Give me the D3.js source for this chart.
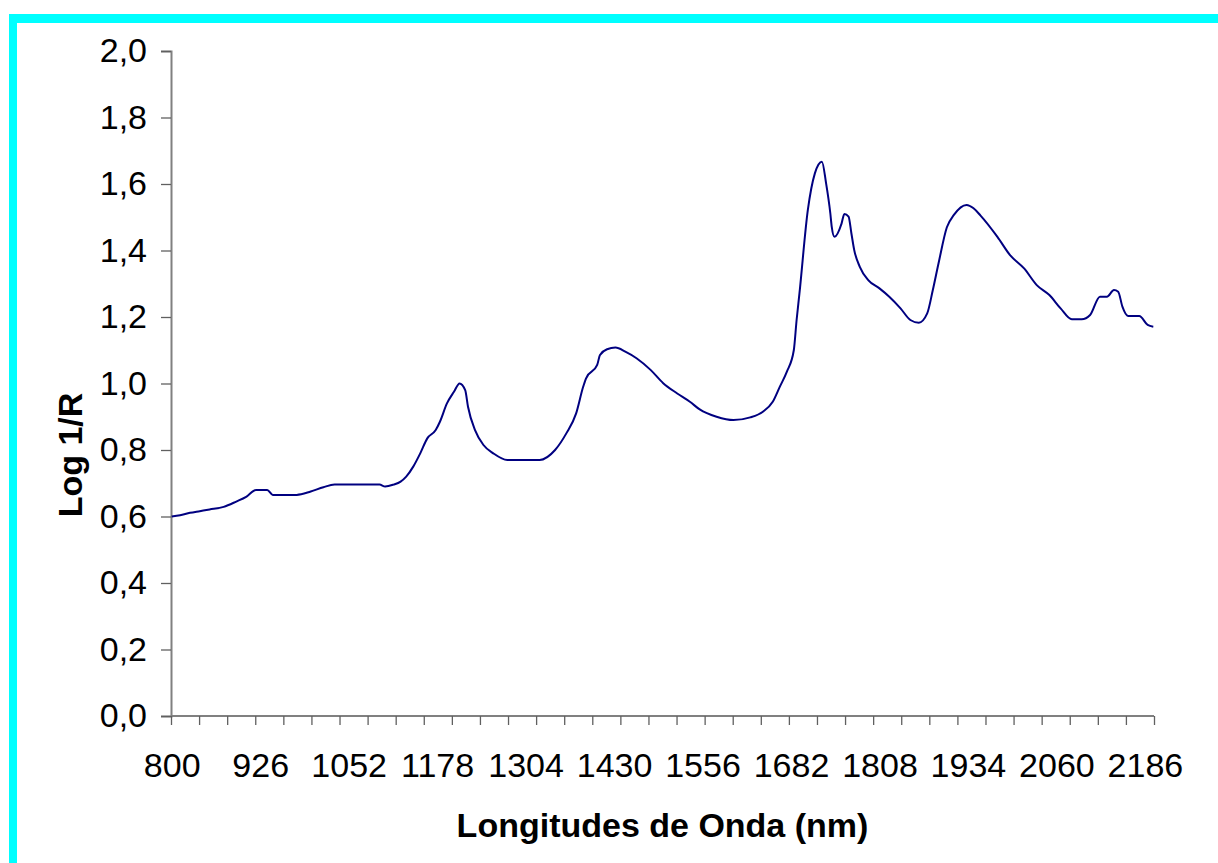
<!DOCTYPE html>
<html>
<head>
<meta charset="utf-8">
<script src="https://cdn.jsdelivr.net/npm/d3@7"></script>
<style>
  html, body { margin: 0; padding: 0; background: #ffffff; }
  svg { display: block; }
  text { font-family: "Liberation Sans", Arial, sans-serif; }
</style>
</head>
<body>
<svg id="chart" width="1218" height="863"></svg>
<script>
// Spectrum: wavelength (nm) and absorbance (log 1/R)
const wavelengths = [800, 812, 826, 840, 854, 874, 892, 906, 920, 936, 944, 978, 998, 1016, 1032,
  1096, 1104, 1116, 1126, 1134, 1144, 1154, 1164, 1176, 1182, 1192, 1202, 1210, 1218, 1222,
  1232, 1244, 1258, 1278, 1324, 1346, 1362, 1376, 1386, 1390, 1406, 1410, 1420, 1432, 1446,
  1462, 1482, 1500, 1520, 1538, 1552, 1576, 1600, 1624, 1642, 1656, 1666, 1676, 1686, 1690,
  1694, 1706, 1716, 1726, 1732, 1738, 1740, 1744, 1754, 1758, 1764, 1768, 1772, 1780, 1792,
  1808, 1822, 1838, 1852, 1864, 1876, 1884, 1892, 1904, 1914, 1932, 1942, 1952, 1976, 1994,
  2014, 2032, 2050, 2066, 2082, 2096, 2108, 2122, 2132, 2142, 2148, 2154, 2162, 2178, 2190, 2198];
const absorbance = [0.600, 0.604, 0.611, 0.616, 0.621, 0.629, 0.645, 0.659, 0.680, 0.680, 0.665, 0.665, 0.675, 0.688, 0.696,
  0.696, 0.690, 0.696, 0.705, 0.720, 0.750, 0.790, 0.835, 0.860, 0.885, 0.940, 0.975, 1.000, 0.980, 0.930,
  0.860, 0.815, 0.790, 0.770, 0.770, 0.800, 0.850, 0.910, 0.990, 1.015, 1.056, 1.086, 1.103, 1.108, 1.096,
  1.076, 1.041, 1.001, 0.970, 0.945, 0.922, 0.900, 0.890, 0.898, 0.915, 0.945, 0.990, 1.035, 1.100, 1.191,
  1.270, 1.522, 1.632, 1.667, 1.602, 1.512, 1.472, 1.441, 1.481, 1.510, 1.502, 1.452, 1.402, 1.351, 1.311,
  1.286, 1.261, 1.226, 1.191, 1.183, 1.211, 1.281, 1.360, 1.470, 1.507, 1.537, 1.527, 1.505, 1.441, 1.386,
  1.346, 1.296, 1.266, 1.226, 1.193, 1.193, 1.206, 1.261, 1.261, 1.281, 1.276, 1.231, 1.203, 1.203, 1.176, 1.171];

const xLabels = [800, 926, 1052, 1178, 1304, 1430, 1556, 1682, 1808, 1934, 2060, 2186];
const xTickMarks = d3.range(799, 2200, 40);
const yTicks = [0, 0.2, 0.4, 0.6, 0.8, 1.0, 1.2, 1.4, 1.6, 1.8, 2.0];

const svg = d3.select("#chart");

// cyan frame (top and left edges)
svg.append("rect").attr("x", 9).attr("y", 14).attr("width", 1209).attr("height", 9).attr("fill", "#00ffff");
svg.append("rect").attr("x", 9).attr("y", 14).attr("width", 8).attr("height", 849).attr("fill", "#00ffff");

const plotLeft = 171, plotRight = 1154, plotTop = 51, plotBottom = 716;
const x = d3.scaleLinear().domain([799, 2199]).range([plotLeft, plotRight]);
const y = d3.scaleLinear().domain([0, 2]).range([plotBottom, plotTop]);

const fmt = d => d3.format(".1f")(d).replace(".", ",");

// y axis
const gy = svg.append("g").attr("transform", `translate(${plotLeft},0)`)
  .call(d3.axisLeft(y).tickValues(yTicks).tickSize(10).tickPadding(14).tickFormat(fmt));
gy.select(".domain").attr("stroke", "#808080").attr("stroke-width", 2);
gy.selectAll(".tick line").attr("stroke", "#606060").attr("stroke-width", 1.3);
gy.selectAll(".tick text").attr("font-size", 34).attr("fill", "#000")
  .attr("font-family", "'Liberation Sans', Arial, sans-serif");

// x axis with tick marks
const gx = svg.append("g").attr("transform", `translate(0,${plotBottom})`)
  .call(d3.axisBottom(x).tickValues(xTickMarks).tickSize(9).tickFormat(""));
gx.select(".domain").attr("stroke", "#808080").attr("stroke-width", 2).attr("d", `M${plotLeft},0H${plotRight}`);
gx.selectAll(".tick line").attr("stroke", "#606060").attr("stroke-width", 1.3);

// x axis labels
const gxl = svg.append("g").attr("transform", `translate(0,${plotBottom})`)
  .call(d3.axisBottom(x).tickValues(xLabels).tickSize(0).tickPadding(37).tickFormat(d3.format("d")));
gxl.select(".domain").remove();
gxl.selectAll(".tick text").attr("font-size", 34).attr("fill", "#000")
  .attr("font-family", "'Liberation Sans', Arial, sans-serif");

// spectrum line
const data = wavelengths.map((w, i) => [w, absorbance[i]]);
svg.append("path")
  .datum(data)
  .attr("fill", "none")
  .attr("stroke", "#000080")
  .attr("stroke-width", 2)
  .attr("stroke-linejoin", "round")
  .attr("d", d3.line().x(d => x(d[0])).y(d => y(d[1])).curve(d3.curveMonotoneX));

// axis titles
svg.append("text")
  .attr("x", (plotLeft + plotRight) / 2).attr("y", 837)
  .attr("text-anchor", "middle")
  .attr("font-size", 34).attr("font-weight", "bold")
  .text("Longitudes de Onda (nm)");

svg.append("text")
  .attr("transform", "translate(82,455) rotate(-90)")
  .attr("text-anchor", "middle")
  .attr("font-size", 34).attr("font-weight", "bold")
  .text("Log 1/R");
</script>
</body>
</html>
